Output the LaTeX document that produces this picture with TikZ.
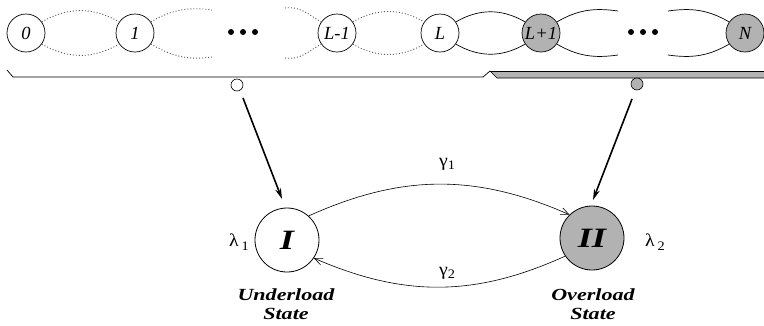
\documentclass[tikz,border=0pt]{standalone}
\usepackage{fontspec}
\setmainfont{Liberation Serif}
\newfontfamily\wide{Liberation Serif}[FakeStretch=1.3]
\newfontfamily\semiwide{Liberation Serif}[FakeStretch=1.1]
\usetikzlibrary{arrows.meta}
\definecolor{fillg}{gray}{0.70}
\tikzset{
  st/.style={circle,draw,line width=0.7pt,minimum size=38pt,inner sep=0pt,font=\fontsize{18.5}{18.5}\selectfont\itshape},
  stg/.style={st,fill=fillg},
  bigst/.style={circle,draw,line width=0.8pt,minimum size=64pt,inner sep=0pt,font=\fontsize{28}{28}\selectfont\bfseries\itshape\wide},
  dotarc/.style={black!65,dash pattern=on 1pt off 2pt,line width=0.9pt},
  solarc/.style={line width=0.7pt},
  bigarrow/.style={line width=1.6pt,-{Stealth[length=11pt,width=6pt]}},
  trans/.style={line width=0.6pt,-{Straight Barb[length=8pt,width=7pt]}},
  lbl/.style={font=\fontsize{17}{19.5}\selectfont\bfseries\itshape\wide,align=center},
  greek/.style={font=\fontsize{18}{18}\selectfont\semiwide}
}
\begin{document}
\begin{tikzpicture}[x=1pt,y=1pt]
\useasboundingbox (0,0) rectangle (764,-325);
% chain nodes
\node[st] (n0) at (26,-33) {0};
\node[st] (n1) at (135,-33) {1};
\node[st] (nLm) at (337,-33) {L-1};
\node[st] (nL) at (440,-33) {L};
\node[stg] (nLp) at (541,-33) {L+1};
\node[stg] (nN) at (745,-33) {N};
% dots
\foreach \x in {231,243,255} \fill (\x,-32) circle (3pt);
\foreach \x in {631,643,655} \fill (\x,-32) circle (3pt);
% free ends of partial arcs
\coordinate (p1t) at (212,-10);
\coordinate (p1b) at (212,-57);
\coordinate (p2t) at (285,-8);
\coordinate (p2b) at (285,-58);
\coordinate (p3t) at (618,-11);
\coordinate (p3b) at (618,-55);
\coordinate (p4t) at (668,-11);
\coordinate (p4b) at (668,-55);
% dotted arcs
\draw[dotarc] (n0.35) to[out=30,in=150] (n1.145);
\draw[dotarc] (n0.-35) to[out=-30,in=-150] (n1.-145);
\draw[dotarc] (n1.35) to[out=30,in=172] (p1t);
\draw[dotarc] (n1.-35) to[out=-30,in=-172] (p1b);
\draw[dotarc] (p2t) to[out=8,in=150] (nLm.145);
\draw[dotarc] (p2b) to[out=-8,in=-150] (nLm.-145);
\draw[dotarc] (nLm.35) to[out=30,in=150] (nL.145);
\draw[dotarc] (nLm.-35) to[out=-30,in=-150] (nL.-145);
% solid arcs
\draw[solarc] (nL.35) to[out=30,in=150] (nLp.145);
\draw[solarc] (nL.-35) to[out=-30,in=-150] (nLp.-145);
\draw[solarc] (nLp.35) to[out=30,in=172] (p3t);
\draw[solarc] (nLp.-35) to[out=-30,in=-172] (p3b);
\draw[solarc] (p4t) to[out=8,in=150] (nN.145);
\draw[solarc] (p4b) to[out=-8,in=-150] (nN.-145);
% braces
\fill[fillg] (490,-71) -- (770,-71) -- (770,-78) -- (497,-78) -- cycle;
\draw[line width=0.7pt] (7,-70) -- (13,-77) -- (483,-77) -- (490,-71) -- (497,-78) -- (770,-78);
\draw[line width=0.7pt] (490,-71) -- (770,-71);
\node[circle,draw,line width=0.6pt,minimum size=12pt,inner sep=0pt] (s1) at (237,-85) {};
\node[circle,draw,fill=fillg,line width=0.6pt,minimum size=12pt,inner sep=0pt] (s2) at (637,-84) {};
% aggregated states
\node[bigst] (I) at (287,-240) {I};
\node[bigst,fill=fillg] (II) at (592,-238) {II};
\coordinate (a1s) at (243,-98);
\coordinate (a1e) at (282,-199);
\coordinate (a2s) at (632,-99);
\coordinate (a2e) at (593,-200);
\draw[bigarrow] (a1s) -- (a1e);
\draw[bigarrow] (a2s) -- (a2e);
\draw[trans] (I.48) to[bend left=24] (II.134);
\draw[trans] (II.214) to[bend left=24] (I.-34);
% labels
\node[greek] (g1) at (447,-164) {γ\raisebox{-0.45ex}{\fontsize{13}{13}\selectfont 1}};
\node[greek] (g2) at (447,-273) {γ\raisebox{-0.45ex}{\fontsize{13}{13}\selectfont 2}};
\node[greek] (l1) at (239,-242) {λ\,\raisebox{-0.45ex}{\fontsize{13}{13}\selectfont 1}};
\node[greek] (l2) at (655,-242) {λ\,\raisebox{-0.45ex}{\fontsize{13}{13}\selectfont 2}};
\node[lbl] (ul) at (286,-304) {Underload\\State};
\node[lbl] (ol) at (593,-304) {Overload\\State};
\end{tikzpicture}
\end{document}
